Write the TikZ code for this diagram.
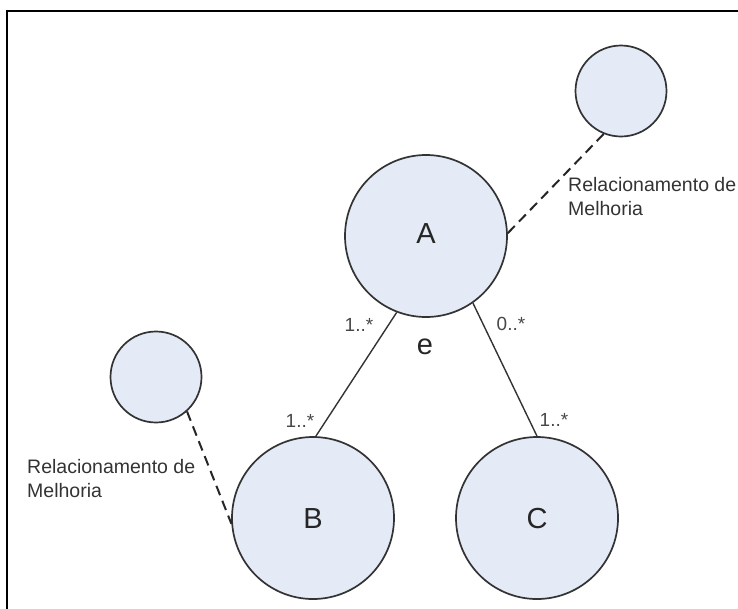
\documentclass[tikz,border=0pt]{standalone}
\usepackage{fontspec}
\setmainfont{Liberation Sans}
\begin{document}
\begin{tikzpicture}[x=1pt,y=-1pt,
  entity/.style={circle,draw=black!80,line width=1.7pt,fill=circfill,inner sep=0pt},
  big/.style={entity,minimum size=162pt},
  small/.style={entity,minimum size=91pt},
  assoc/.style={draw=black!80,line width=1.4pt},
  improve/.style={draw=black!85,line width=2pt,dash pattern=on 10pt off 6pt},
  mult/.style={text=black!72,font=\fontsize{19}{24}\selectfont,inner sep=0pt},
  note/.style={text=black!80,font=\fontsize{19.5}{24}\selectfont,inner sep=0pt,align=left,anchor=base west},
  letter/.style={text=black!85,font=\fontsize{29}{32}\selectfont,inner sep=0pt}]
\definecolor{circfill}{HTML}{E4EBF6}
\useasboundingbox (0,0) rectangle (738,608);
% frame
\draw[line width=2pt] (7,640) -- (7,11) -- (760,11);
% entities
\node[big] (a) at (426,236) {};
\node[big] (b) at (313,518) {};
\node[big] (c) at (537,518) {};
\node[small] (ra) at (621,91) {};
\node[small] (rb) at (156,377) {};
\node[letter] (la) at (426,234) {A};
\node[letter] (lb) at (313,519) {B};
\node[letter] (lc) at (537,519) {C};
\node[letter] (le) at (425,347) {e};
% associations
\draw[assoc] (a.249) -- (b.88);
\draw[assoc] (a.-55) -- (c.90);
% improvement relations
\draw[improve] (a.2) -- (ra.248);
\draw[improve] (rb.-48) -- (b.184);
% multiplicities
\node[mult] (m1) at (359,325) {1..*};
\node[mult] (m2) at (511,324) {0..*};
\node[mult] (m3) at (300,421) {1..*};
\node[mult] (m4) at (554,420) {1..*};
% notes (anchored at the baseline of the last line)
\node[note] (n1) at (568,215) {Relacionamento de\\Melhoria};
\node[note] (n2) at (27,497) {Relacionamento de\\Melhoria};
\end{tikzpicture}
\end{document}
